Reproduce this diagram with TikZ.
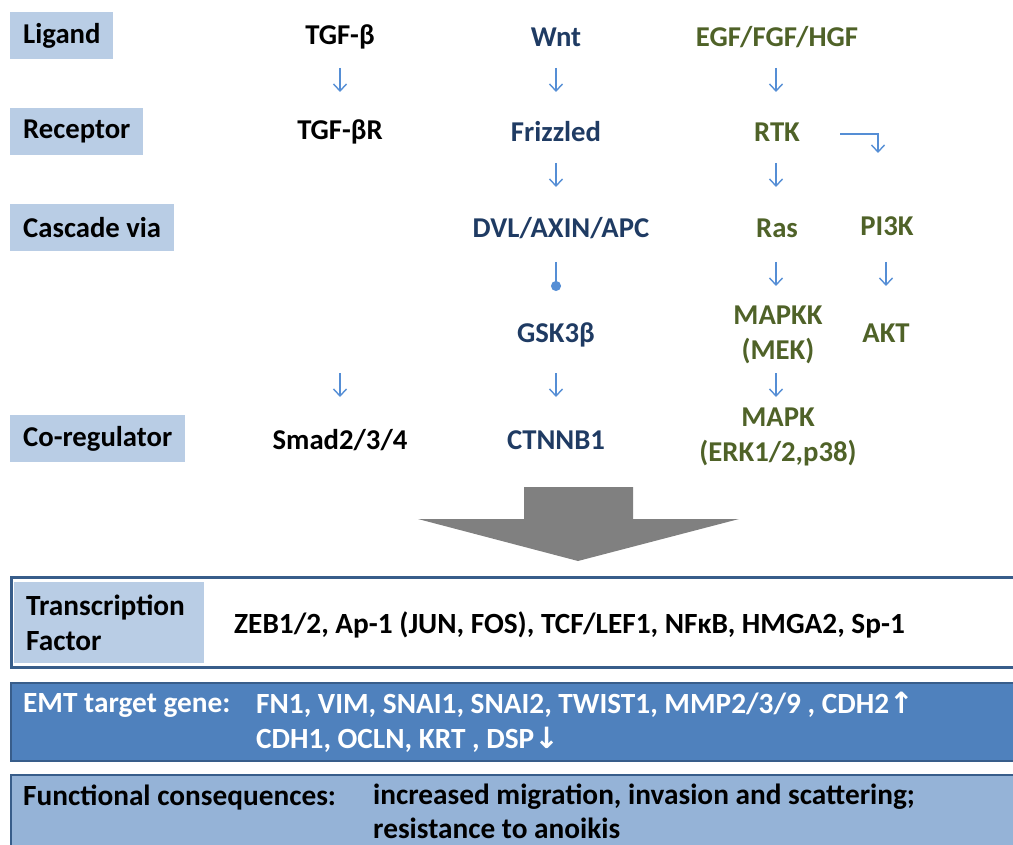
\documentclass[tikz,border=0pt]{standalone}
\usepackage{fontspec}
\setmainfont{Carlito}
\newfontfamily\djv{DejaVu Sans}
\usetikzlibrary{arrows.meta}
\definecolor{labfill}{HTML}{B9CDE5}
\definecolor{wntc}{HTML}{1F3B63}
\definecolor{egfc}{HTML}{4F6228}
\definecolor{arrc}{HTML}{558ED5}
\definecolor{bord}{HTML}{385D8A}
\definecolor{emtfill}{HTML}{4F81BD}
\definecolor{funfill}{HTML}{95B3D7}
\definecolor{bigarr}{HTML}{808080}
\newcommand{\fs}{\bfseries\fontsize{28.7}{35}\selectfont}
\newcommand{\fb}{\bfseries\fontsize{29.3}{35}\selectfont}
\begin{document}
\begin{tikzpicture}[x=1pt,y=-1pt,
  lab/.style={fill=labfill, anchor=north west, minimum height=47pt, inner xsep=13pt, inner ysep=0pt, font=\fs, text=black},
  txt/.style={font=\fs, inner sep=0pt, align=center},
  wnt/.style={txt, text=wntc},
  egf/.style={txt, text=egfc},
  arr/.style={draw=arrc, line width=1.4pt, -{Straight Barb[length=7pt,width=13pt]}},
  inh/.style={draw=arrc, line width=1.4pt, -{Circle[length=10pt]}},
  btxt/.style={font=\fb, inner sep=0pt, anchor=west}
]
\useasboundingbox (0,0) rectangle (1013,845);

% row labels
\node[lab] (lig) at (10,12) {Ligand};
\node[lab] (rec) at (10,108) {Receptor};
\node[lab] (cas) at (10,204) {Cascade via};
\node[lab] (cor) at (10,415) {Co-regulator};

% TGF column
\node[txt] (tgfb) at (340,37) {TGF-β};
\node[txt] (tgfbr) at (340,132) {TGF-βR};
\node[txt] (smad) at (340,440) {Smad2/3/4};

% Wnt column
\node[wnt] (wnt) at (556,37) {Wnt};
\node[wnt] (frz) at (556,132) {Frizzled};
\node[wnt] (dvl) at (561,228) {DVL/AXIN/APC};
\node[wnt] (gsk) at (556,335) {GSK3β};
\node[wnt] (ctn) at (556,440) {CTNNB1};

% EGF column
\node[egf] (egf) at (777,37) {EGF/FGF/HGF};
\node[egf] (rtk) at (777,132) {RTK};
\node[egf] (ras) at (777,228) {Ras};
\node[egf] (mek) at (778,335) {MAPKK\\(MEK)};
\node[egf] (mapk) at (778,437) {MAPK\\(ERK1/2,p38)};
\node[egf] (pi3k) at (887,226) {PI3K};
\node[egf] (akt) at (886,333) {AKT};

% connectors
\draw[arr, shorten <=31pt, shorten >=40pt] (tgfb.center) -- (tgfbr.center);
\draw[arr, shorten <=241pt, shorten >=43pt] (tgfbr.center) -- (smad.center);
\draw[arr, shorten <=31pt, shorten >=40pt] (wnt.center) -- (frz.center);
\draw[arr, shorten <=31pt, shorten >=41pt] (frz.center) -- ([xshift=-5pt]dvl.center);
\draw[inh, shorten <=34pt, shorten >=44pt] ([xshift=-5pt]dvl.center) -- (gsk.center);
\draw[arr, shorten <=38pt, shorten >=43pt] (gsk.center) -- (ctn.center);
\draw[arr, shorten <=31pt, shorten >=40pt] ([xshift=-1pt]egf.center) -- ([xshift=-1pt]rtk.center);
\draw[arr, shorten <=31pt, shorten >=41pt] ([xshift=-1pt]rtk.center) -- ([xshift=-1pt]ras.center);
\draw[arr, shorten <=34pt, shorten >=49pt] ([xshift=-1pt]ras.center) -- ([xshift=-2pt]mek.center);
\draw[arr, shorten <=38pt, shorten >=40pt] ([xshift=-2pt]mek.center) -- ([xshift=-2pt]mapk.center);
\draw[arr, shorten <=36pt, shorten >=47pt] ([xshift=-1pt]pi3k.center) -- (akt.center);
\draw[arr, shorten <=63pt, shorten >=73pt] ([yshift=-2pt]rtk.center) -| ([xshift=-9pt]pi3k.center);

% big grey arrow
\fill[bigarr] (524,487) -- (633,487) -- (633,519) -- (739,519) -- (578,561) -- (418,519) -- (524,519) -- cycle;

% transcription factor box
\draw[line width=3pt, draw=bord] (11,577) rectangle (1030,667);
\node[fill=labfill, anchor=north west, text width=166pt, minimum height=81pt, inner xsep=12pt, inner ysep=0pt, align=left, font=\fb] (tf) at (14,582) {Transcription\\Factor};
\node[btxt] (tfl) at (234,625) {ZEB1/2, Ap-1 (JUN, FOS), TCF/LEF1, NFκB, HMGA2, Sp-1};

% EMT box
\draw[fill=emtfill, draw=bord, line width=2pt] (11,683) rectangle (1030,761);
\node[btxt, text=white] (emt) at (23,705) {EMT target gene:};
\node[btxt, text=white] (emt1) at (256,705) {FN1, VIM, SNAI1, SNAI2, TWIST1, MMP2/3/9 , CDH2{\djv ↑}};
\node[btxt, text=white] (emt2) at (256,740) {CDH1, OCLN, KRT , DSP{\djv ↓}};

% functional box
\draw[fill=funfill, draw=bord, line width=2pt] (11,775) rectangle (1030,860);
\node[btxt] (fun) at (23,797) {Functional consequences:};
\node[btxt] (fun1) at (373,797) {increased migration, invasion and scattering;};
\node[btxt] (fun2) at (373,828) {resistance to anoikis};
\end{tikzpicture}
\end{document}
